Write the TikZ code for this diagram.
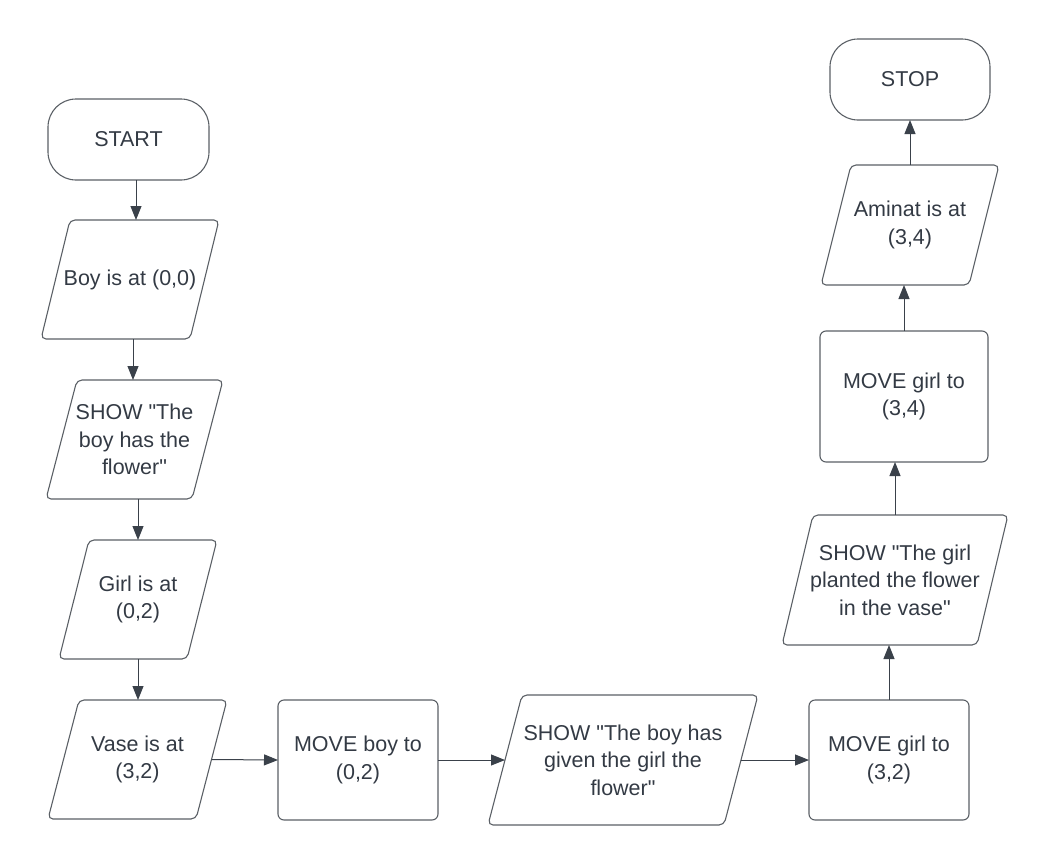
\documentclass[tikz,border=0pt]{standalone}
\usepackage{fontspec}
\setmainfont{Liberation Sans}[Ligatures=TeXOff]
\usetikzlibrary{arrows.meta}
\definecolor{txt}{HTML}{333A44}
\definecolor{edge}{HTML}{5B6066}
\definecolor{conn}{HTML}{3A414A}
\tikzset{
 base/.style={text=txt, font=\fontsize{21.5}{27.5}\selectfont, align=center, inner sep=0pt, outer sep=0pt},
 term/.style={base, draw=edge, line width=1.1pt, rounded corners=28pt},
 proc/.style={base, draw=edge, line width=1.1pt, rounded corners=6pt},
 io/.style={base},
 pline/.style={draw=edge, line width=1.1pt, rounded corners=5pt},
 arr/.style={draw=conn, line width=1pt, -{Triangle[length=14pt,width=11pt]}},
}
\begin{document}
\begin{tikzpicture}[x=1pt,y=-1pt]
\useasboundingbox (0,0) rectangle (1050,865);
\node[term, minimum width=161pt, minimum height=81pt] (start) at (128.5,139.5) {START};
\node[io, minimum width=178pt, minimum height=119pt] (boy) at (130,279.5) {Boy is at (0,0)};
\node[io, minimum width=177pt, minimum height=119pt] (show1) at (134.5,439.5) {SHOW "The\\boy has the\\flower"};
\node[io, minimum width=158pt, minimum height=119pt] (girl) at (138,599.5) {Girl is at\\(0,2)};
\node[io, minimum width=179pt, minimum height=119pt] (vase) at (137.5,759.5) {Vase is at\\(3,2)};
\node[proc, minimum width=160pt, minimum height=120pt] (moveboy) at (358,760) {MOVE boy to\\(0,2)};
\node[io, minimum width=270pt, minimum height=130pt] (show2) at (623,760) {SHOW "The boy has\\given the girl the\\flower"};
\node[proc, minimum width=160pt, minimum height=120pt] (movegirlA) at (889,760) {MOVE girl to\\(3,2)};
\node[io, minimum width=226pt, minimum height=130pt] (show3) at (895,580) {SHOW "The girl\\planted the flower\\in the vase"};
\node[proc, minimum width=168pt, minimum height=131pt] (movegirlB) at (904,396.5) {MOVE girl to\\(3,4)};
\node[io, minimum width=178pt, minimum height=120pt] (aminat) at (910,225) {Aminat is at\\(3,4)};
\node[term, minimum width=160pt, minimum height=81pt] (stop) at (910,79.5) {STOP};

\foreach \n/\s in {boy/29,show1/31,girl/30,vase/31,show2/34,show3/31,aminat/30}
  \draw[pline] ([xshift=\s pt]\n.north west) -- (\n.north east) -- ([xshift=-\s pt]\n.south east) -- (\n.south west) -- cycle;

\draw[arr] ([xshift=7.5pt]start.south) -- ([xshift=6pt]boy.north);
\draw[arr] ([xshift=3pt]boy.south) -- ([xshift=-1.5pt]show1.north);
\draw[arr] ([xshift=3.5pt]show1.south) -- (girl.north);
\draw[arr] (girl.south) -- ([xshift=0.5pt]vase.north);
\draw[arr] ([xshift=-15.5pt]vase.east) -- (moveboy.west);
\draw[arr] (moveboy.east) -- ([xshift=17pt]show2.west);
\draw[arr] ([xshift=-17pt]show2.east) -- (movegirlA.west);
\draw[arr] (movegirlA.north) -- ([xshift=-6pt]show3.south);
\draw[arr] (show3.north) -- ([xshift=-9pt]movegirlB.south);
\draw[arr] (movegirlB.north) -- ([xshift=-6pt]aminat.south);
\draw[arr] (aminat.north) -- (stop.south);
\end{tikzpicture}
\end{document}
